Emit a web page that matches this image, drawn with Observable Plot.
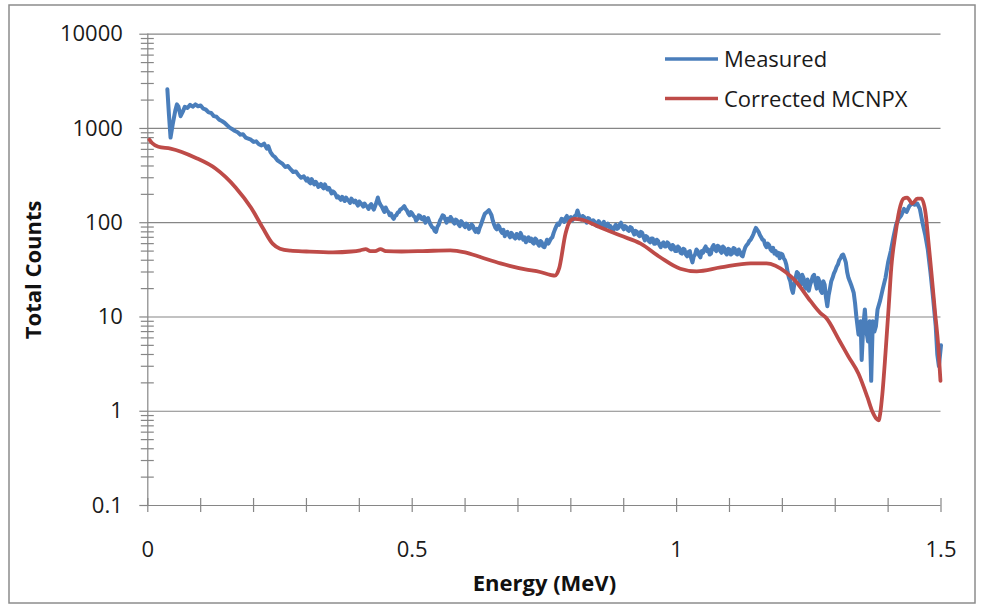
<!DOCTYPE html>
<html>
<head>
<meta charset="utf-8">
<script src="https://cdn.jsdelivr.net/npm/d3@7"></script>
<script src="https://cdn.jsdelivr.net/npm/@observablehq/plot@0.6"></script>
<style>
  html, body { margin: 0; padding: 0; background: #fff; }
  #chart { position: relative; width: 984px; height: 605px; }
</style>
</head>
<body>
<div id="chart"></div>
<script>
// ---- Data ----
const measuredEnergy = [
  0.037,0.040,0.043,0.047,0.052,0.055,0.058,0.062,0.066,0.070,
  0.075,0.080,0.085,0.090,0.095,0.100,0.105,0.110,0.115,0.120,
  0.125,0.130,0.135,0.140,0.145,0.150,0.155,0.160,0.165,0.170,
  0.175,0.180,0.185,0.190,0.195,0.200,0.205,0.210,0.215,0.220,
  0.225,0.228,0.232,0.236,0.240,0.245,0.250,0.255,0.260,0.265,
  0.270,0.275,0.280,0.285,0.290,0.295,
  0.3000,0.3025,0.3050,0.3075,0.3100,0.3125,0.3150,0.3175,
  0.3200,0.3225,0.3250,0.3275,0.3300,0.3325,0.3350,0.3375,
  0.3400,0.3425,0.3450,0.3475,0.3500,0.3525,0.3550,0.3575,
  0.3600,0.3625,0.3650,0.3675,0.3700,0.3725,0.3750,0.3775,
  0.3800,0.3825,0.3850,0.3875,0.3900,0.3925,0.3950,0.3975,
  0.4000,0.4025,0.4050,0.4075,0.4100,0.4125,0.4150,0.4175,
  0.4200,0.4225,0.4250,0.4275,0.4300,0.4325,0.4350,0.4375,
  0.4400,0.4425,0.4450,0.4475,0.4500,0.4525,0.4550,0.4575,
  0.4600,0.4625,0.4650,0.4675,0.4700,0.4725,0.4750,0.4775,
  0.4800,0.4825,0.4850,0.4875,0.4900,0.4925,0.4950,0.4975,
  0.5000,0.5025,0.5050,0.5075,0.5100,0.5125,0.5150,0.5175,
  0.5200,0.5225,0.5250,0.5275,0.5300,0.5325,0.5350,0.5375,
  0.5400,0.5425,0.5450,0.5475,0.5500,0.5525,0.5550,0.5575,
  0.5600,0.5625,0.5650,0.5675,0.5700,0.5725,0.5750,0.5775,
  0.5800,0.5825,0.5850,0.5875,0.5900,0.5925,0.5950,0.5975,
  0.6000,0.6025,0.6050,0.6075,0.6100,0.6125,0.6150,0.6175,
  0.6200,0.6225,0.6250,0.6275,0.6300,0.6325,0.6350,0.6375,
  0.6400,0.6425,0.6450,0.6475,0.6500,0.6525,0.6550,0.6575,
  0.6600,0.6625,0.6650,0.6675,0.6700,0.6725,0.6750,0.6775,
  0.6800,0.6825,0.6850,0.6875,0.6900,0.6925,0.6950,0.6975,
  0.7000,0.7025,0.7050,0.7075,0.7100,0.7125,0.7150,0.7175,
  0.7200,0.7225,0.7250,0.7275,0.7300,0.7325,0.7350,0.7375,
  0.7400,0.7425,0.7450,0.7475,0.7500,0.7525,0.7550,0.7575,
  0.7600,0.7625,0.7650,0.7675,0.7700,0.7725,0.7750,0.7775,
  0.7800,0.7825,0.7850,0.7875,0.7900,0.7925,0.7950,0.7975,
  0.8000,0.8025,0.8050,0.8075,0.8100,0.8125,0.8150,0.8175,
  0.8200,0.8225,0.8250,0.8275,0.8300,0.8325,0.8350,0.8375,
  0.8400,0.8425,0.8450,0.8475,0.8500,0.8525,0.8550,0.8575,
  0.8600,0.8625,0.8650,0.8675,0.8700,0.8725,0.8750,0.8775,
  0.8800,0.8825,0.8850,0.8875,0.8900,0.8925,0.8950,0.8975,
  0.9000,0.9025,0.9050,0.9075,0.9100,0.9125,0.9150,0.9175,
  0.9200,0.9225,0.9250,0.9275,0.9300,0.9325,0.9350,0.9375,
  0.9400,0.9425,0.9450,0.9475,0.9500,0.9525,0.9550,0.9575,
  0.9600,0.9625,0.9650,0.9675,0.9700,0.9725,0.9750,0.9775,
  0.9800,0.9825,0.9850,0.9875,0.9900,0.9925,0.9950,0.9975,
  1.0000,1.0025,1.0050,1.0075,1.0100,1.0125,1.0150,1.0175,
  1.0200,1.0225,1.0250,1.0275,1.0300,1.0325,1.0350,1.0375,
  1.0400,1.0425,1.0450,1.0475,1.0500,1.0525,1.0550,1.0575,
  1.0600,1.0625,1.0650,1.0675,1.0700,1.0725,1.0750,1.0775,
  1.0800,1.0825,1.0850,1.0875,1.0900,1.0925,1.0950,1.0975,
  1.1000,1.1025,1.1050,1.1075,1.1100,1.1125,1.1150,1.1175,
  1.1200,1.1225,1.1250,1.1275,1.1300,1.1325,1.1350,1.1375,
  1.1400,1.1425,1.1450,1.1475,1.1500,1.1525,1.1550,1.1575,
  1.1600,1.1625,1.1650,1.1675,1.1700,1.1725,1.1750,1.1775,
  1.1800,1.1825,1.1850,1.1875,1.1900,1.1925,1.1950,1.1975,
  1.2000,1.2025,1.2050,1.2075,1.2100,1.2125,1.2150,1.2175,
  1.2200,1.2225,1.2250,1.2275,1.2300,1.2325,1.2350,1.2375,
  1.2400,1.2425,1.2450,1.2475,1.2500,1.2525,1.2550,1.2575,
  1.2600,1.2625,1.2650,1.2675,1.2700,1.2725,1.2750,1.2775,
  1.2800,1.2825,1.2850,1.2875,1.2900,1.2925,1.2950,1.2975,
  1.3000,1.3025,1.3050,1.3075,1.3100,1.3125,1.3150,1.3175,
  1.3200,1.3225,1.3250,1.3275,1.3300,1.3325,1.3350,1.3375,
  1.340,1.344,1.348,1.350,1.353,1.356,1.359,1.362,1.365,1.368,
  1.371,1.374,1.377,1.380,1.385,1.390,1.395,1.400,1.405,1.410,
  1.415,1.420,1.425,1.430,1.435,1.440,1.445,1.450,1.455,1.460,
  1.465,1.470,1.475,1.480,1.485,1.490,1.493,1.496,1.500
];
const measuredCounts = [
  2600,1400,800,1100,1550,1800,1700,1350,1500,1700,
  1650,1780,1700,1800,1720,1750,1620,1580,1480,1460,
  1350,1330,1240,1200,1150,1080,1020,980,940,910,
  860,870,800,780,760,720,730,680,660,690,
  610,650,560,520,500,460,440,420,390,400,
  370,345,350,320,300,310,
  280,295,270,262,290,270,255,272,
  260,240,245,258,240,232,255,238,
  225,235,220,205,215,210,200,185,
  190,182,175,188,178,170,185,176,
  170,162,180,172,165,172,160,152,
  168,162,155,148,160,152,148,140,
  152,158,145,138,150,165,185,165,
  155,148,138,130,145,135,130,120,
  125,115,110,118,120,128,130,138,
  140,145,150,140,135,125,120,130,
  125,118,115,105,110,120,118,110,
  108,115,100,108,112,102,95,90,
  88,82,80,90,95,105,112,120,
  118,108,100,110,105,115,110,102,
  98,108,105,96,92,104,100,94,
  90,98,95,86,88,96,92,84,
  80,86,79,88,95,105,115,125,
  128,132,136,128,120,105,95,88,
  85,94,90,82,78,84,72,78,
  80,74,70,78,75,70,68,76,
  72,68,78,72,66,70,62,66,
  70,64,68,62,60,68,66,60,
  57,64,62,56,55,60,66,60,
  64,68,70,78,85,92,98,95,
  102,110,108,102,112,118,105,112,
  115,106,110,118,120,135,122,112,
  108,118,115,106,100,112,110,102,
  98,106,102,94,92,104,100,92,
  95,102,88,94,98,90,92,86,
  82,90,95,86,88,96,100,90,
  85,92,90,84,82,90,88,80,
  75,82,80,74,72,80,78,70,
  65,72,70,64,62,68,68,60,
  60,66,64,58,55,60,62,56,
  56,62,60,54,52,58,56,50,
  50,56,54,48,47,53,52,46,
  44,49,50,42,38,44,46,52,
  50,45,43,50,48,53,56,50,
  52,46,47,55,58,52,50,57,
  56,50,48,56,54,48,46,53,
  52,46,47,54,53,47,46,52,
  49,45,44,50,55,58,60,64,
  66,70,75,82,88,84,80,74,
  70,66,65,58,55,60,58,52,
  50,54,47,50,45,48,42,47,
  46,42,40,36,30,26,24,20,
  18,22,26,30,29,25,22,28,
  26,21,20,25,19,22,24,27,
  28,23,20,26,24,19,18,24,
  22,16,13,17,20,24,26,29,
  31,34,36,40,42,45,46,42,
  38,30,26,24,22,20,18,14,
  10,6.5,9,3.5,8,12,7,5.5,9,2.1,
  9,7,8,12,15,20,26,38,50,70,
  95,110,120,140,130,150,160,155,160,140,
  100,75,52,30,16,8,4,3,5
];
const correctedEnergy = [
  0.003,0.008,0.020,0.043,0.090,0.128,0.166,0.195,0.217,0.236,
  0.250,0.270,0.300,0.350,0.385,0.402,0.412,0.421,0.430,0.440,
  0.450,0.480,0.520,0.572,0.600,0.630,0.667,0.714,0.742,0.761,
  0.770,0.778,0.790,0.799,0.807,0.820,0.856,0.894,0.932,0.969,
  1.007,1.038,1.083,1.140,1.170,1.187,1.206,1.225,1.253,1.272,
  1.282,1.308,1.325,1.344,1.361,1.370,1.374,1.378,1.382,1.385,
  1.389,1.395,1.401,1.406,1.414,1.421,1.429,1.436,1.446,1.455,
  1.463,1.471,1.476,1.482,1.489,1.495,1.499
];
const correctedCounts = [
  760,700,640,612,490,376,237,145,89,60,
  53,50.5,49.5,48.5,49.5,51,52.5,50,50,52.5,
  50,49.5,50,51,48.5,43,37,32,30,28,
  27.5,33,77,105,110,108,89,73,60,43,
  32.5,30.5,33.5,37,37,35,30,24,14.8,11,
  9.9,5.6,3.8,2.5,1.4,1.0,0.9,0.83,0.8,0.94,
  1.5,4.1,12.6,33.5,77,134,180,185,160,180,
  180,124,65,29,10.8,4.8,2.1
];
const seriesNames = ["Measured", "Corrected MCNPX"];
const seriesColors = ["#4a7ebb", "#be4b48"];
const yMajorTicks = [0.1, 1, 10, 100, 1000, 10000];
const yTickLabels = ["0.1", "1", "10", "100", "1000", "10000"];
const yMinorTicks = [0.2,0.3,0.4,0.5,0.6,0.7,0.8,0.9,2,3,4,5,6,7,8,9,20,30,40,50,60,70,80,90,
  200,300,400,500,600,700,800,900,2000,3000,4000,5000,6000,7000,8000,9000];
const xAllTicks = [0,0.1,0.2,0.3,0.4,0.5,0.6,0.7,0.8,0.9,1.0,1.1,1.2,1.3,1.4,1.5];
const xMajorTicks = [0, 0.5, 1, 1.5];
const xTickLabels = ["0", "0.5", "1", "1.5"];
const xTitle = "Energy (MeV)";
const yTitle = "Total Counts";

// ---- Build tables ----
const measured = measuredEnergy.map((e, i) => ({e, v: measuredCounts[i]}));
const corrected = correctedEnergy.map((e, i) => ({e, v: correctedCounts[i]}));

const axisColor = "#868686";
const font = "'Open Sans', sans-serif";

const chart = Plot.plot({
  width: 984,
  height: 605,
  marginLeft: 147.3,
  marginRight: 43.5,
  marginTop: 33.7,
  marginBottom: 100,
  style: {fontFamily: font, background: "white", color: "#000"},
  x: {domain: [0, 1.5]},
  y: {type: "log", domain: [0.1, 10000]},
  marks: [
    Plot.gridY(yMajorTicks, {stroke: axisColor, strokeOpacity: 1, strokeWidth: 1.2}),
    Plot.frame({anchor: "left", stroke: axisColor, strokeWidth: 1.2}),
    Plot.axisY(yMinorTicks, {tickSize: 13, dx: 6.5, tickFormat: () => "", label: null, stroke: axisColor, strokeWidth: 1.2}),
    Plot.axisY(yMajorTicks, {
      tickSize: 8, tickPadding: 17, label: null, stroke: axisColor, strokeWidth: 1.2,
      tickFormat: d => yTickLabels[yMajorTicks.indexOf(d)], fontSize: 22, fill: "#1a1a1a"
    }),
    Plot.axisX(xAllTicks, {tickSize: 14, dy: -7, tickFormat: () => "", label: null, stroke: axisColor, strokeWidth: 1.2}),
    Plot.axisX(xMajorTicks, {
      tickSize: 0, tickPadding: 36, label: null,
      tickFormat: d => xTickLabels[xMajorTicks.indexOf(d)], fontSize: 22, fill: "#1a1a1a"
    }),
    Plot.line(measured, {x: "e", y: "v", stroke: seriesColors[0], strokeWidth: 4, strokeLinejoin: "round"}),
    Plot.line(corrected, {x: "e", y: "v", curve: "monotone-x", stroke: seriesColors[1], strokeWidth: 3.8, strokeLinejoin: "round"}),
    Plot.text([yTitle], {frameAnchor: "left", dx: -114, rotate: -90, textAnchor: "middle", lineAnchor: "middle", fontWeight: "bold", fontSize: 22, fill: "#111"}),
    Plot.text([xTitle], {frameAnchor: "bottom", dy: 78, textAnchor: "middle", lineAnchor: "middle", fontWeight: "bold", fontSize: 22, fill: "#111"})
  ]
});

const svg = d3.select(chart);
// outer chart border
svg.append("rect")
  .attr("x", 9).attr("y", 5).attr("width", 966).attr("height", 598)
  .attr("fill", "none").attr("stroke", "#8c8c8c").attr("stroke-width", 1.5);
// legend
const legend = svg.append("g").attr("font-family", font).attr("font-size", 22).attr("text-anchor", "start");
seriesNames.forEach((name, i) => {
  const y = 59 + i * 39.5;
  legend.append("line").attr("x1", 665).attr("x2", 718).attr("y1", y).attr("y2", y)
    .attr("stroke", seriesColors[i]).attr("stroke-width", 3.6);
  legend.append("text").attr("x", 724).attr("y", y + 8).attr("fill", "#1a1a1a").text(name);
});

document.getElementById("chart").appendChild(chart);
</script>
</body>
</html>
